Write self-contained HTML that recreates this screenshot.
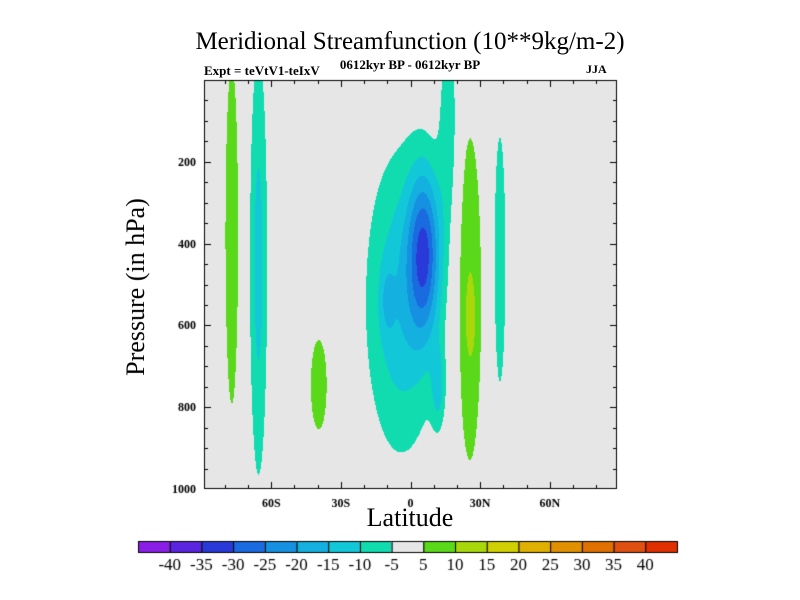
<!DOCTYPE html>
<html><head><meta charset="utf-8"><style>
body{margin:0;background:#fff;width:800px;height:600px;overflow:hidden;position:relative;font-family:"Liberation Serif",serif}
.t{position:absolute;white-space:nowrap;color:#000}
canvas{position:absolute;left:0;top:0}
</style></head><body>
<canvas id="c" width="800" height="600"></canvas>
<div class="t" style="left:0;width:820px;text-align:center;top:28px;font-size:25px">Meridional Streamfunction (10**9kg/m-2)</div>
<div class="t" style="left:204px;top:63px;font-size:13px;font-weight:bold">Expt = teVtV1-teIxV</div>
<div class="t" style="left:0;width:820px;text-align:center;top:57px;font-size:13px;font-weight:bold">0612kyr BP - 0612kyr BP</div>
<div class="t" style="left:586px;top:62px;font-size:12px;font-weight:bold">JJA</div>
<div class="t" style="left:136px;top:287px;font-size:26px;transform:translate(-50%,-50%) rotate(-90deg)">Pressure (in hPa)</div>
<div class="t" style="left:0;width:820px;text-align:center;top:503px;font-size:26px">Latitude</div>
<script>
// Data: field features (latitude center/width, pressure center/width, amplitude)
const latCenter = [-77, -65.5, -39.5, 6, -4, 16.5, 25.5, 26, 38.5, 12, -10];
const latWidth  = [4, 4, 5, 7, 15, 4, 6, 2, 3.5, 3, 3];
const presCenter= [380, 450, 745, 420, 545, 100, 535, 585, 440, 750, 540];
const presWidth = [600, 550, 160, 200, 360, 250, 480, 80, 440, 100, 80];
const amplitude = [8, -12, 8, -25, -14, -9, 10, 4, -8, -10, -6];
const levels = [-40,-35,-30,-25,-20,-15,-10,-5,5,10,15,20,25,30,35,40];
const levelColors = ["#8a1ee6","#5a24e0","#2a3ad8","#1a6ae0","#1690e0","#14b0e0","#12c8d8","#10dcb0","#e6e6e6","#5ad81a","#a8d80a","#d0d000","#e0b000","#e09000","#e07000","#e05010","#e03000"];
const xTicks = [-60,-30,0,30,60];
const xTickLabels = ["60S","30S","0","30N","60N"];
const yTicks = [200,400,600,800,1000];

const L=204,R=617,T=80,B=489,latMin=-89,latMax=89,pMin=0,pMax=1000;
const xS=v=>L+(v-latMin)/(latMax-latMin)*(R-L);
const yS=v=>T+(v-pMin)/(pMax-pMin)*(B-T);
const ctx=document.getElementById('c').getContext('2d');
function field(lat,p){let s=0;for(let i=0;i<amplitude.length;i++){const a=(lat-latCenter[i])/latWidth[i],b=(p-presCenter[i])/presWidth[i];s+=amplitude[i]*Math.exp(-(a*a+b*b));}return s;}
function colorOf(v){let k=0;while(k<levels.length&&v>=levels[k])k++;
  if(v>-5&&v<5)return levelColors[8];return levelColors[k];}
const img=ctx.createImageData(R-L,B-T);
for(let py=0;py<B-T;py++){const p=pMin+(py+0.5)/(B-T)*(pMax-pMin);
 for(let px=0;px<R-L;px++){const lat=latMin+(px+0.5)/(R-L)*(latMax-latMin);
  const c=colorOf(field(lat,p));const o=(py*(R-L)+px)*4;
  img.data[o]=parseInt(c.substr(1,2),16);img.data[o+1]=parseInt(c.substr(3,2),16);img.data[o+2]=parseInt(c.substr(5,2),16);img.data[o+3]=255;}}
ctx.putImageData(img,L,T);
ctx.strokeStyle='#000';ctx.lineWidth=1;ctx.strokeRect(L+0.5,T+0.5,R-L-1,B-T-1);
ctx.beginPath();
for(let v=-80;v<=80;v+=10){const x=Math.round(xS(v))+0.5,len=(v%30==0)?7:4;ctx.moveTo(x,B);ctx.lineTo(x,B-len);ctx.moveTo(x,T);ctx.lineTo(x,T+len);}
for(let v=50;v<=950;v+=50){const y=Math.round(yS(v))+0.5,len=(v%200==0)?7:4;ctx.moveTo(L,y);ctx.lineTo(L+len,y);ctx.moveTo(R,y);ctx.lineTo(R-len,y);}
ctx.stroke();
ctx.fillStyle='#000';ctx.font='bold 12px "Liberation Serif", serif';
ctx.textAlign='center';
xTicks.forEach((v,i)=>ctx.fillText(xTickLabels[i],xS(v),507));
ctx.textAlign='right';
yTicks.forEach(v=>ctx.fillText(String(v),196,yS(v)+4));
// colorbar
const cbL=138,cbR=677,cbT=541,cbB=552,w=(cbR-cbL)/levelColors.length;
levelColors.forEach((c,i)=>{ctx.fillStyle=c;ctx.fillRect(cbL+i*w,cbT,w,cbB-cbT);ctx.strokeStyle='#000';ctx.strokeRect(cbL+i*w+0.5,cbT+0.5,w,cbB-cbT);});
ctx.fillStyle='#000';ctx.font='17px "Liberation Serif", serif';ctx.textAlign='center';
levels.forEach((v,i)=>ctx.fillText(String(v),cbL+(i+1)*w,570));
</script>
</body></html>
